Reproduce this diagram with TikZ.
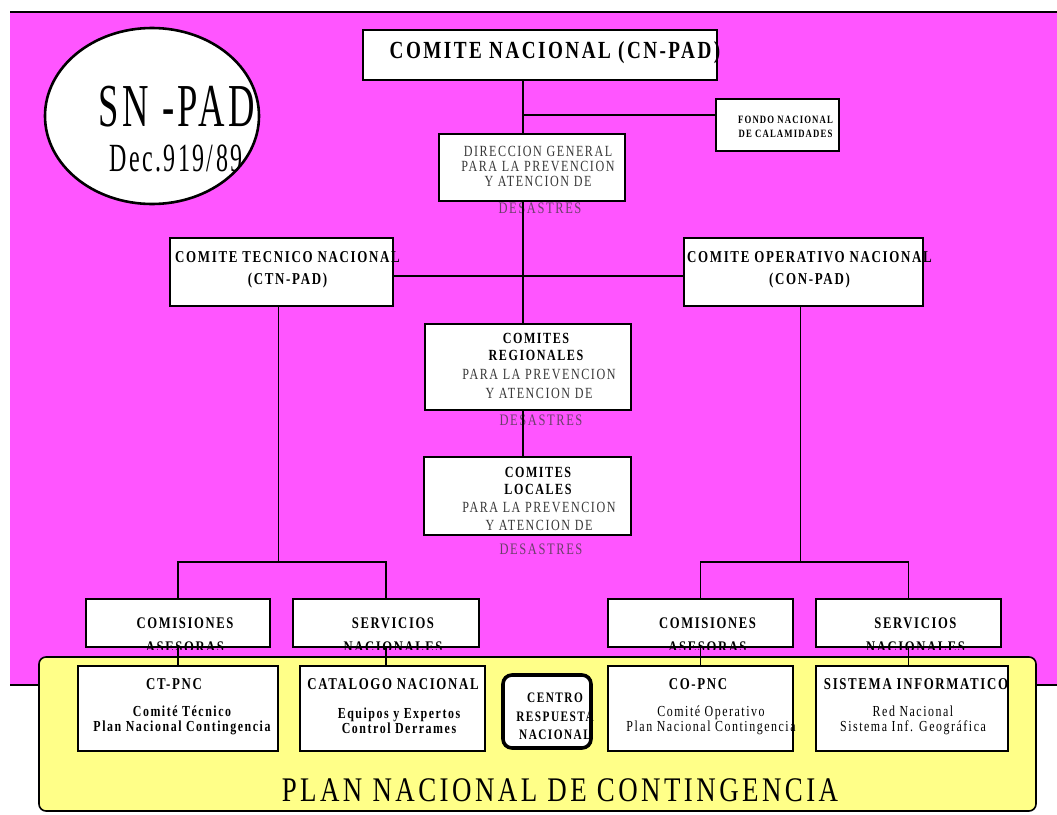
\documentclass[tikz,border=0pt]{standalone}
\usepackage{fontspec}
\setmainfont{Liberation Serif}
\newfontfamily\orgfont[FakeStretch=0.78,LetterSpace=10]{Liberation Serif}
\newfontfamily\ovalfont[FakeStretch=0.6,LetterSpace=6]{Liberation Serif}
\usepackage{tikz}
\usetikzlibrary{positioning, shapes.geometric}
\definecolor{sysmagenta}{RGB}{255,85,255}
\definecolor{planyellow}{RGB}{255,255,136}

\begin{document}
\begin{tikzpicture}[x=1pt, y=-1pt,
	frame/.style={draw, line width=2.6pt, fill=white, inner sep=0pt},
	tb/.style 2 args={font=\orgfont\bfseries\fontsize{#1}{#2}\selectfont, align=center, inner sep=0pt},
	tr/.style 2 args={font=\orgfont\fontsize{#1}{#2}\selectfont, align=center, inner sep=0pt},
	faint/.style={text=black!78},
	link/.style={line width=1.8pt}]
			\useasboundingbox (0,0) rectangle (1057,814);
			\fill[sysmagenta] (10,12) rectangle (1057,685);
			\draw[line width=1.6pt] (10,12) -- (1057,12);
			\draw[line width=1.2pt] (10,685) -- (1057,685);

			\node[frame, ellipse, line width=2.6pt, minimum width=214pt, minimum height=176pt] (snpad) at (152,116) {};
			\node[font=\ovalfont\fontsize{61}{61}\selectfont, inner sep=0pt] (snpadname) at (177,107) {SN -PAD};
			\node[font=\ovalfont\fontsize{40}{40}\selectfont, inner sep=0pt] (snpaddec) at (176,158) {Dec.919/89};

			\node[frame, minimum width=354pt, minimum height=50pt] (cnpad) at (540,55) {};
			\node[tb={24.6}{26}] (cnpadtxt) at ([xshift=15pt, yshift=2pt]cnpad.center) {COMITE NACIONAL (CN-PAD)};
			\node[frame, minimum width=123pt, minimum height=52pt] (fondo) at (777.5,125) {};
			\node[tb={11.2}{13.5}] (fondotxt) at ([xshift=8pt, yshift=-2pt]fondo.center) {FONDO NACIONAL\\DE CALAMIDADES};

			\node[frame, minimum width=186pt, minimum height=67pt] (direccion) at (532,167.5) {};
			\node[tr={15.5}{15}, faint] (direcciontxt) at (538,166) {DIRECCION GENERAL\\PARA LA PREVENCION\\Y ATENCION DE};
			\node[tr={16}{16}, faint, text opacity=0.75] (direcciondes) at (540,208) {DESASTRES};

			\node[frame, minimum width=223pt, minimum height=68pt] (ctn) at (281.5,272) {};
			\node[tb={16.6}{22}] (ctntxt) at ([xshift=6pt, yshift=2pt]ctn.center) {COMITE TECNICO NACIONAL\\(CTN-PAD)};
			\node[frame, minimum width=239pt, minimum height=68pt] (con) at (803.5,272) {};
			\node[tb={16.6}{22}] (contxt) at ([xshift=6pt, yshift=2pt]con.center) {COMITE OPERATIVO NACIONAL\\(CON-PAD)};

			\node[frame, minimum width=206pt, minimum height=86pt] (regionales) at (528,367) {};
			\node[tb={15.5}{17}] (regionalestxt) at (536,347) {COMITES\\REGIONALES};
			\node[tr={15.5}{19}, faint] (regionalesfondo) at (539,384) {PARA LA PREVENCION\\Y ATENCION DE};
			\node[tr={16}{16}, faint, text opacity=0.75] (regionalesdes) at (541,420) {DESASTRES};

			\node[frame, minimum width=207pt, minimum height=78pt] (locales) at (527.5,496) {};
			\node[tb={15.5}{17}] (localestxt) at (538,480.5) {COMITES\\LOCALES};
			\node[tr={15.5}{18}, faint] (localesfondo) at (539,516) {PARA LA PREVENCION\\Y ATENCION DE};
			\node[tr={16}{16}, faint, text opacity=0.75] (localesdes) at (541,549) {DESASTRES};

			\node[frame, minimum width=184pt, minimum height=48pt] (comisionesizq) at (178,623) {};
			\node[tb={16.2}{24}] (comisionesizqtxt) at ([xshift=7pt, yshift=-12pt]comisionesizq.center) {COMISIONES\\ASESORAS};
			\node[frame, minimum width=186pt, minimum height=48pt] (serviciosizq) at (386,623) {};
			\node[tb={16.2}{24}] (serviciosizqtxt) at ([xshift=7pt, yshift=-12pt]serviciosizq.center) {SERVICIOS\\NACIONALES};
			\node[frame, minimum width=185pt, minimum height=48pt] (comisionesder) at (700.5,623) {};
			\node[tb={16.2}{24}] (comisionesdertxt) at ([xshift=7pt, yshift=-12pt]comisionesder.center) {COMISIONES\\ASESORAS};
			\node[frame, minimum width=185pt, minimum height=48pt] (serviciosder) at (908.5,623) {};
			\node[tb={16.2}{24}] (serviciosdertxt) at ([xshift=7pt, yshift=-12pt]serviciosder.center) {SERVICIOS\\NACIONALES};

			\coordinate (tronco) at (523,0);
			\coordinate (fondocruce) at (523,115);
			\coordinate (rama) at (0,562);
			\draw[link] (cnpad.south -| tronco) -- (direccion.north -| tronco);
			\draw[link] (direccion.south -| tronco) -- (regionales.north -| tronco);
			\draw[link] (regionales.south -| tronco) -- (locales.north -| tronco);
			\draw[link] (fondocruce) -- (fondocruce -| fondo.west);
			\draw[link] ([yshift=-4pt]ctn.east) -- ([yshift=-4pt]con.west);
			\draw[link] ([xshift=-3pt]ctn.south) -- ([xshift=-3pt]ctn.south |- rama);
			\draw[link] (comisionesizq.north) |- (rama -| serviciosizq.north) -- (serviciosizq.north);
			\draw[link] ([xshift=-3pt]con.south) -- ([xshift=-3pt]con.south |- rama);
			\draw[link] (comisionesder.north) |- (rama -| serviciosder.north) -- (serviciosder.north);

			\fill[sysmagenta] (38,649.6) rectangle (1037,655);
			\node[draw, fill=planyellow, rounded corners=7pt, line width=1.6pt, inner sep=0pt, minimum width=997pt, minimum height=154pt] (panel) at (537.5,734) {};

			\node[frame, minimum width=200pt, minimum height=85pt] (ctpnc) at (178,708.5) {};
			\node[tb={16.5}{16}] (ctpnchead) at (174,684) {CT-PNC};
			\node[tb={15.3}{15}] (ctpncbody) at (182,720.5) {Comité Técnico\\Plan Nacional Contingencia};
			\node[frame, minimum width=185pt, minimum height=85pt] (catalogo) at (392.5,708.5) {};
			\node[tb={16.5}{16}] (catalogohead) at (393,684) {CATALOGO NACIONAL};
			\node[tb={15.3}{15}] (catalogobody) at (399,720.5) {Equipos y Expertos\\Control Derrames};
			\node[frame, rounded corners=9pt, line width=3.6pt, minimum width=88pt, minimum height=73pt] (centro) at (547,711.5) {};
			\node[tb={14.5}{18.5}] (centrotxt) at (555,716.5) {CENTRO\\RESPUESTA\\NACIONAL};
			\node[frame, minimum width=185pt, minimum height=85pt] (copnc) at (700.5,708.5) {};
			\node[tb={16.5}{16}] (copnchead) at (698,684) {CO-PNC};
			\node[tr={15.3}{15}] (copncbody) at (711,720.5) {Comité Operativo\\Plan Nacional Contingencia};
			\node[frame, minimum width=192pt, minimum height=85pt] (sistema) at (912,708.5) {};
			\node[tb={16.5}{16}] (sistemahead) at (916,684) {SISTEMA INFORMATICO};
			\node[tr={15.3}{15}] (sistemabody) at (913,720.5) {Red Nacional\\Sistema Inf. Geográfica};

			\draw[link] (comisionesizq.south) -- (comisionesizq.south |- ctpnc.north);
			\draw[link] (serviciosizq.south) -- (serviciosizq.south |- catalogo.north);
			\draw[link] (comisionesder.south) -- (comisionesder.south |- copnc.north);
			\draw[link] (serviciosder.south) -- (serviciosder.south |- sistema.north);

			\node[tr={34.5}{34}] (plan) at (560,790) {PLAN NACIONAL DE CONTINGENCIA};
		\end{tikzpicture}
\end{document}
